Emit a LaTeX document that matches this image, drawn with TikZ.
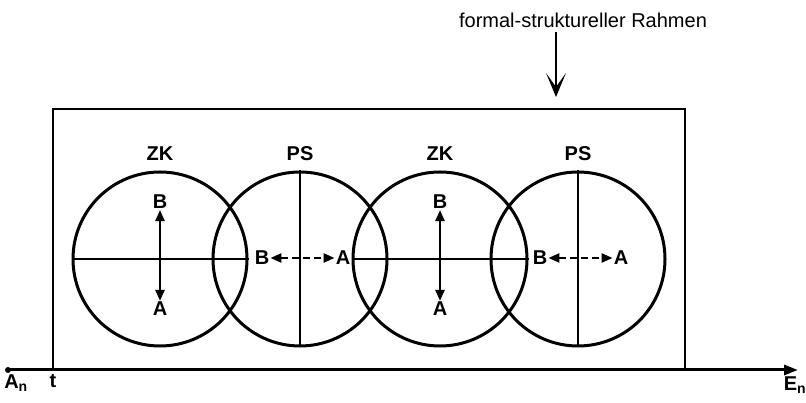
\documentclass[tikz,border=0pt]{standalone}
\usepackage{fontspec}
\setmainfont{Liberation Sans}
\usepackage{tikz}
\usetikzlibrary{arrows.meta,positioning,calc}

\begin{document}
\begin{tikzpicture}[
  x=1pt, y=1pt,
  >={Triangle[length=11pt,width=9pt]},
  lab/.style={font=\fontsize{20}{22}\selectfont\bfseries, inner sep=1pt},
  head/.style={font=\fontsize{20}{22}\selectfont\bfseries, inner sep=1pt},
  title/.style={font=\fontsize{20}{22}\selectfont, inner sep=1pt},
  ring/.style={draw, line width=3pt},
  split/.style={draw, line width=1.6pt},
  arr/.style={<->, line width=2.4pt},
  darr/.style={<->, line width=2.4pt, dash pattern=on 7pt off 4pt},
]
\useasboundingbox (0,0) rectangle (806,403);
% time axis and frame
\coordinate (start) at (8,33);
\coordinate (end) at (798,33);
\draw[line width=1.7pt] (53,33) rectangle (685,294);
\draw[line width=3pt, -{Triangle[length=14pt,width=10pt]}] (start) -- (end);
\fill (start) circle (3pt);
\node[lab] (an) at (16,20) {A\textsubscript{n}};
\node[lab] (t) at (53,22) {t};
\node[lab] (en) at (795,18) {E\textsubscript{n}};
% frame label
\node[title] (rahmen) at (583,383) {formal-struktureller Rahmen};
\coordinate (hit) at (556,306);
\draw[line width=1.5pt, -{Stealth[length=24pt,width=20pt,inset=14pt]}] (556,371) -- (hit);
% circles
\foreach \x/\nm in {160/zk1, 300/ps1, 440/zk2, 578/ps2}{
  \node[circle, ring, minimum size=174pt, inner sep=0pt] (\nm) at (\x,144) {};
}
\foreach \nm/\txt in {zk1/ZK, ps1/PS, zk2/ZK, ps2/PS}{
  \node[head, above=9pt of \nm.north] (h\nm) {\txt};
}
% ZK: horizontal split, vertical arrow
\foreach \nm in {zk1, zk2}{
  \draw[split] (\nm.west) -- (\nm.east);
  \node[lab] (b\nm) at ($(\nm.center)+(0,57)$) {B};
  \node[lab] (a\nm) at ($(\nm.center)+(0,-50)$) {A};
  \draw[arr] (b\nm.south) -- (a\nm.north);
}
% PS: vertical split, dashed horizontal arrow
\foreach \nm in {ps1, ps2}{
  \draw[split] (\nm.north) -- (\nm.south);
  \node[lab] (b\nm) at ($(\nm.center)+(-38,1)$) {B};
  \node[lab] (a\nm) at ($(\nm.center)+(43,1)$) {A};
  \draw[darr] (b\nm.east) -- (a\nm.west);
}
\end{tikzpicture}
\end{document}
